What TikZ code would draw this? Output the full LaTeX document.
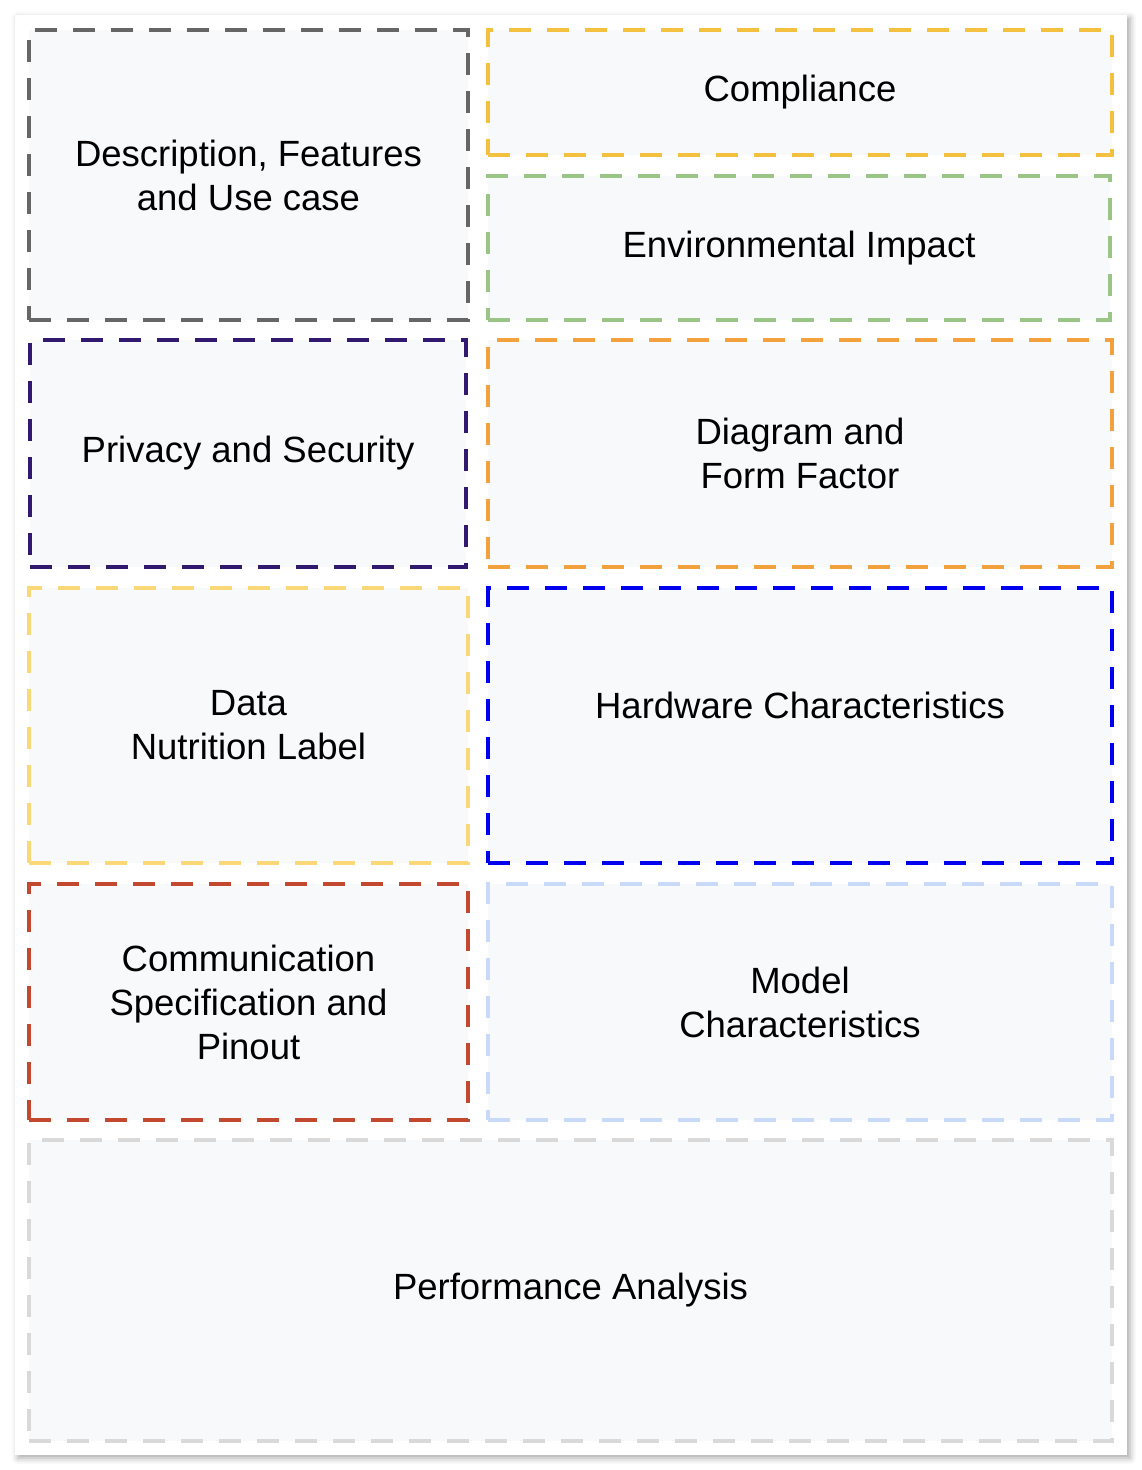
\documentclass[tikz,border=0pt]{standalone}
\usepackage{fontspec}
\setmainfont{Liberation Sans}
\usetikzlibrary{shadows.blur}

\definecolor{cardfill}{HTML}{F8F9FA}
\definecolor{descgray}{HTML}{666666}
\definecolor{compyellow}{HTML}{F3C040}
\definecolor{envgreen}{HTML}{9BC587}
\definecolor{privpurple}{HTML}{30196E}
\definecolor{formorange}{HTML}{F2A13C}
\definecolor{datayellow}{HTML}{FAD878}
\definecolor{hwblue}{HTML}{0000EE}
\definecolor{commred}{HTML}{C2482F}
\definecolor{modelblue}{HTML}{C9DAF8}
\definecolor{perfgray}{HTML}{D9D9D9}

\begin{document}
\begin{tikzpicture}[x=1pt,y=-1pt,
  card/.style={draw=#1,fill=cardfill,line width=4pt,dash pattern=on 22pt off 16pt,
    align=center,inner sep=0pt,outer sep=0pt,anchor=north west,
    font=\fontsize{36.5}{44}\selectfont},
  cardtext/.style={align=center,inner sep=0pt,font=\fontsize{36.5}{44}\selectfont}]
\useasboundingbox (0,0) rectangle (1142,1470);
%sheet
\fill[white,blur shadow={shadow xshift=3pt,shadow yshift=-3pt,shadow blur radius=6pt,shadow opacity=35}] (15,15) rectangle (1127,1455);
%left column
\node[card=descgray,minimum width=439pt,minimum height=290pt] (desc) at (29,30) {Description, Features\\and Use case};
\node[card=privpurple,minimum width=436pt,minimum height=227pt] (priv) at (30,340) {Privacy and Security};
\node[card=datayellow,minimum width=439pt,minimum height=275pt] (data) at (29,588) {Data\\Nutrition Label};
\node[card=commred,minimum width=439pt,minimum height=236pt] (comm) at (29,884) {Communication\\Specification and\\Pinout};
%right column
\node[card=compyellow,minimum width=624pt,minimum height=125pt] (comp) at (488,30) {Compliance};
\node[card=envgreen,minimum width=622pt,minimum height=144pt] (env) at (488,176) {Environmental Impact};
\node[card=formorange,minimum width=624pt,minimum height=227pt] (form) at (488,340) {Diagram and\\Form Factor};
\node[card=hwblue,minimum width=624pt,minimum height=275pt] (hw) at (488,588) {};
\node[cardtext] (hwtext) at ([yshift=20pt]hw.center) {Hardware Characteristics};
\node[card=modelblue,minimum width=624pt,minimum height=236pt] (model) at (488,884) {Model\\Characteristics};
%bottom
\node[card=perfgray,minimum width=1083pt,minimum height=301pt] (perf) at (29,1140) {Performance Analysis};
\end{tikzpicture}
\end{document}
